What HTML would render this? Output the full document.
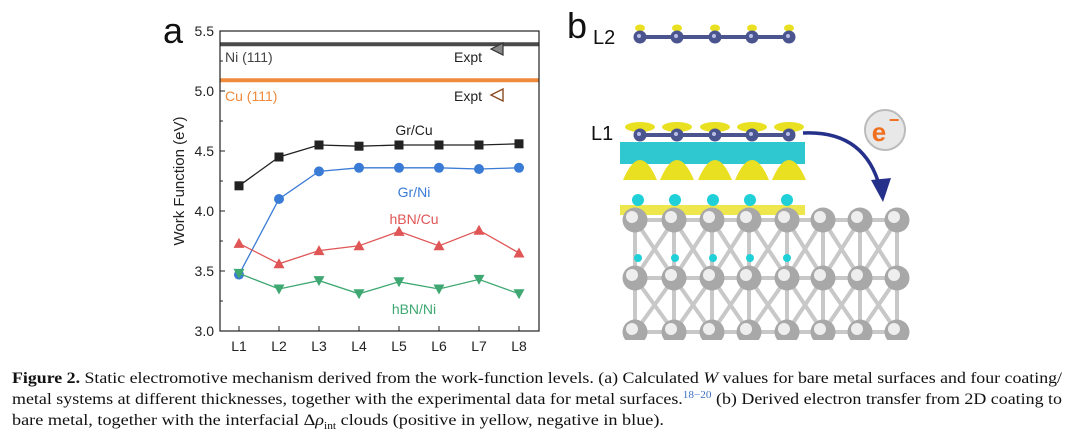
<!DOCTYPE html>
<html><head><meta charset="utf-8"><style>
body{margin:0;background:#fff;}
svg{display:block;font-family:"Liberation Sans",sans-serif;}
</style></head><body>
<svg id="fig" width="1072" height="436" viewBox="0 0 1072 436" xmlns="http://www.w3.org/2000/svg">
<g id="chart"></g>
<g id="panelb"></g>
<g font-family="Liberation Serif,serif" font-size="16" fill="#111">
<text x="12" y="383" textLength="1050" lengthAdjust="spacingAndGlyphs"><tspan font-weight="bold">Figure 2.</tspan> Static electromotive mechanism derived from the work-function levels. (a) Calculated <tspan font-style="italic">W</tspan> values for bare metal surfaces and four coating/</text>
<text x="12" y="404" textLength="1050" lengthAdjust="spacingAndGlyphs">metal systems at different thicknesses, together with the experimental data for metal surfaces.<tspan font-size="10" dy="-6" fill="#3a6fc0">18−20</tspan><tspan dy="6"> (b) Derived electron transfer from 2D coating to</tspan></text>
<text x="12" y="425" textLength="652" lengthAdjust="spacingAndGlyphs">bare metal, together with the interfacial Δ<tspan font-style="italic">ρ</tspan><tspan font-size="10" dy="4">int</tspan><tspan dy="-4"> clouds (positive in yellow, negative in blue).</tspan></text>
</g>
</svg>
<script>
const categories=["L1","L2","L3","L4","L5","L6","L7","L8"];
const grCu=[4.21,4.45,4.55,4.54,4.55,4.55,4.55,4.56];
const grNi=[3.47,4.10,4.33,4.36,4.36,4.36,4.35,4.36];
const hbnCu=[3.73,3.56,3.67,3.71,3.83,3.71,3.84,3.65];
const hbnNi=[3.48,3.35,3.42,3.31,3.41,3.35,3.43,3.31];
const niRef=[5.39];
const cuRef=[5.09];
const yTicks=[3.0,3.5,4.0,4.5,5.0,5.5];
const NS="http://www.w3.org/2000/svg";
const PL=220,PR=539,PT=31,PB=331,yMin=3.0,yMax=5.5;
const xS=i=>239+i*(519-239)/(categories.length-1);
const yS=v=>PB-(v-yMin)/(yMax-yMin)*(PB-PT);
const g=document.getElementById('chart');
function el(tag,attrs,parent,text){const n=document.createElementNS(NS,tag);for(const k in attrs)n.setAttribute(k,attrs[k]);if(text!==undefined)n.textContent=text;(parent||g).appendChild(n);return n;}
let e;
e=el('line',{x1:PL,x2:PR,y1:yS(niRef[0]),y2:yS(niRef[0]),stroke:'#4a4a4a','stroke-width':4});

e=el('line',{x1:PL,x2:PR,y1:yS(cuRef[0]),y2:yS(cuRef[0]),stroke:'#f08a3c','stroke-width':4});

e=el('rect',{x:PL,y:PT,width:PR-PL,height:PB-PT,fill:'none',stroke:'#222','stroke-width':1.2});

yTicks.forEach(v=>{const y=yS(v);
 e=el('line',{x1:PL,x2:PL+5,y1:y,y2:y,stroke:'#222'});
 
 e=el('text',{x:PL-6,y:y+5,'text-anchor':'end','font-size':14,fill:'#222'},g,v.toFixed(1));
 
 const ym=yS(v+0.25);
 if(v<5.5){e=el('line',{x1:PL,x2:PL+3,y1:ym,y2:ym,stroke:'#222'});}
});
categories.forEach((c,i)=>{const x=xS(i);
 e=el('line',{x1:x,x2:x,y1:PB,y2:PB-5,stroke:'#222'});
 
 e=el('text',{x:x,y:PB+20,'text-anchor':'middle','font-size':14,fill:'#222'},g,c);
 
});
e=el('text',{x:0,y:0,transform:`translate(184 ${(PT+PB)/2}) rotate(-90)`,'text-anchor':'middle','font-size':15,fill:'#222'},g,'Work Function (eV)');

e=el('text',{x:163,y:43,'font-size':36,fill:'#111'},g,'a');

e=el('text',{x:225,y:62,'font-size':14,fill:'#444'},g,'Ni (111)');
e=el('text',{x:225,y:101,'font-size':14,fill:'#f08a3c'},g,'Cu (111)');
e=el('text',{x:454,y:62,'font-size':14,fill:'#222'},g,'Expt');
e=el('text',{x:454,y:101,'font-size':14,fill:'#222'},g,'Expt');
e=el('polygon',{points:'491,49 503,43 503,55',fill:'#888',stroke:'#333','stroke-width':1.2});
e=el('polygon',{points:'491,95 503,89 503,101',fill:'#fff',stroke:'#8b4a20','stroke-width':1.4});
const series=[
 {d:grCu,c:'#222',m:'sq',name:'gr-cu',label:'Gr/Cu',lx:414,ly:135},
 {d:grNi,c:'#3a7bd5',m:'ci',name:'gr-ni',label:'Gr/Ni',lx:414,ly:197},
 {d:hbnCu,c:'#e05555',m:'tu',name:'hbn-cu',label:'hBN/Cu',lx:414,ly:224},
 {d:hbnNi,c:'#3fa872',m:'td',name:'hbn-ni',label:'hBN/Ni',lx:414,ly:314}];
series.forEach(s=>{
 const sg=el('g',{});
 const p=el('polyline',{points:s.d.map((v,i)=>xS(i)+','+yS(v)).join(' '),fill:'none',stroke:s.c,'stroke-width':1.3},sg);
 
 s.d.forEach((v,i)=>{const x=xS(i),y=yS(v);let m;
  if(s.m==='sq')m=el('rect',{x:x-4.5,y:y-4.5,width:9,height:9,fill:s.c},sg);
  else if(s.m==='ci')m=el('circle',{cx:x,cy:y,r:5,fill:s.c},sg);
  else if(s.m==='tu')m=el('polygon',{points:`${x},${y-5.5} ${x+5.5},${y+4.5} ${x-5.5},${y+4.5}`,fill:s.c},sg);
  else m=el('polygon',{points:`${x},${y+5.5} ${x+5.5},${y-4.5} ${x-5.5},${y-4.5}`,fill:s.c},sg);
  });
 const t=el('text',{x:s.lx,y:s.ly,'text-anchor':'middle','font-size':14,fill:s.c},sg,s.label);
 
});
const pb=document.getElementById('panelb');
function pe(tag,attrs,name,text){const n=el(tag,attrs,pb,text);return n;}
pe('text',{x:567,y:38,'font-size':36,fill:'#111'},'panel-b-label','b');
pe('text',{x:593,y:44,'font-size':20,fill:'#111'},'l2-label','L2');
pe('text',{x:591,y:140,'font-size':20,fill:'#111'},'l1-label','L1');
const atomX=[640,677,715,752,789];
pe('line',{x1:640,x2:789,y1:37,y2:37,stroke:'#4a5590','stroke-width':4},'l2-bond');
atomX.forEach(x=>{pe('ellipse',{cx:x,cy:28,rx:5,ry:3.5,fill:'#e8e020'},'l2-cloud');pe('circle',{cx:x,cy:37,r:6.5,fill:'#4a5590'},'l2-atom');pe('circle',{cx:x-1,cy:36,r:2,fill:'#b8c0e8'},'atom-highlight');});
const mx=[635,674,712,749,787,823,860,897],my=[220,278,332];
for(let r=0;r<2;r++)mx.forEach((x,i)=>{if(i<7){pe('line',{x1:x,y1:my[r],x2:mx[i+1],y2:my[r+1],stroke:'#c8c8c8','stroke-width':4},'metal-bond');pe('line',{x1:mx[i+1],y1:my[r],x2:x,y2:my[r+1],stroke:'#c8c8c8','stroke-width':4},'metal-bond');}pe('line',{x1:x,y1:my[r],x2:x,y2:my[r+1],stroke:'#c8c8c8','stroke-width':4},'metal-bond');});
my.forEach(y=>pe('line',{x1:635,x2:897,y1:y,y2:y,stroke:'#c8c8c8','stroke-width':4},'metal-bond'));
pe('rect',{x:620,y:205,width:185,height:10,fill:'#e8e020',opacity:0.8},'metal-yellow-cloud');
atomX.forEach(x=>{pe('ellipse',{cx:x-2,cy:200,rx:6,ry:6,fill:'#20d0d8'},'metal-cyan-cloud');pe('ellipse',{cx:x-2,cy:258,rx:4,ry:4,fill:'#20d0d8'},'metal-cyan-cloud');});
my.forEach(y=>mx.forEach(x=>{pe('circle',{cx:x,cy:y,r:12.5,fill:'#a8a8a8'},'metal-atom');pe('circle',{cx:x-3,cy:y-3,r:6,fill:'#eeeeee'},'atom-highlight');}));
pe('rect',{x:600,y:340,width:320,height:20,fill:'#fff'},'slab-crop');
pe('rect',{x:620,y:142,width:185,height:22,fill:'#30c8d0'},'l1-cyan-cloud');
atomX.forEach(x=>{pe('path',{d:`M${x-17},180 Q${x},140 ${x+17},180 Z`,fill:'#e8e020'},'l1-yellow-cloud');pe('ellipse',{cx:x,cy:127,rx:15,ry:5,fill:'#e8e020'},'l1-top-cloud');});
pe('line',{x1:638,x2:786,y1:135,y2:135,stroke:'#4a5590','stroke-width':4},'l1-bond');
atomX.forEach(x=>{pe('circle',{cx:x,cy:135,r:6.5,fill:'#4a5590'},'l1-atom');pe('circle',{cx:x-1,cy:134,r:2,fill:'#b8c0e8'},'atom-highlight');});
pe('path',{d:'M803,133 Q865,130 880,188',fill:'none',stroke:'#25308a','stroke-width':3.5},'transfer-arrow');
pe('polygon',{points:'871,180 891,178 883,202',fill:'#25308a'},'transfer-arrowhead');
pe('circle',{cx:885,cy:130,r:20,fill:'#e8e8e8',stroke:'#bbb','stroke-width':2},'electron-badge');
pe('text',{x:879,y:141,'font-size':26,'font-weight':'bold','text-anchor':'middle',fill:'#f07020'},'electron-label','e');
pe('text',{x:894,y:126,'font-size':18,'font-weight':'bold','text-anchor':'middle',fill:'#f07020'},'electron-minus','−');
</script>
</body></html>
